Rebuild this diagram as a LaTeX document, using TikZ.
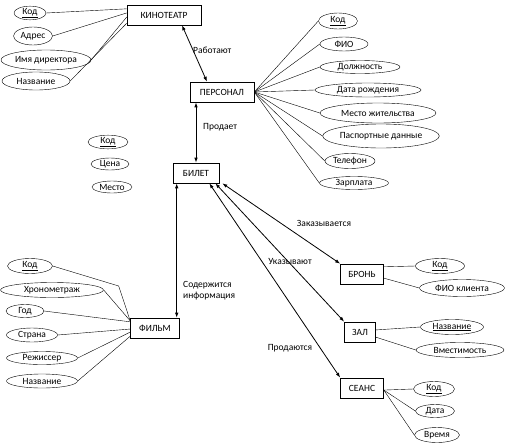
\documentclass[tikz,border=0pt]{standalone}
\usepackage{fontspec}
\setmainfont{Carlito}
\usetikzlibrary{positioning,arrows.meta,calc,shapes.geometric}

\begin{document}
\begin{tikzpicture}[
  x=1pt, y=-1pt,
  font=\fontsize{9.5}{11}\selectfont,
  >={Latex[length=5pt,width=3.5pt]},
  ent/.style={draw, line width=0.6pt, inner xsep=6pt, minimum height=20pt},
  attr/.style={draw, ellipse, inner sep=0pt, minimum height=14pt},
  conn/.style={line width=0.4pt},
  rel/.style={line width=0.8pt, <->},
  lbl/.style={inner sep=0pt, align=left},
]
  \useasboundingbox (0,0) rectangle (510,447);
  % entities
  \node[ent, minimum width=74pt] (kino) at (164,15) {КИНОТЕАТР};
  \node[ent, minimum width=64pt] (pers) at (222,92) {ПЕРСОНАЛ};
  \node[ent, minimum width=46pt] (bilet) at (196,173) {БИЛЕТ};
  \node[ent, minimum width=49pt] (film) at (155,328) {ФИЛЬМ};
  \node[ent, minimum width=43pt] (bron) at (362,274) {БРОНЬ};
  \node[ent, minimum width=31pt] (zal) at (360,332) {ЗАЛ};
  \node[ent, minimum width=43pt] (seans) at (362,388) {СЕАНС};
  % attributes of КИНОТЕАТР
  \node[attr, minimum width=32pt, minimum height=12pt] (kKod) at (30,13) {\underline{Код}};
  \node[attr, minimum width=39pt, minimum height=18pt] (kAdr) at (33,36) {Адрес};
  \node[attr, minimum width=90pt, minimum height=20pt] (kDir) at (46,60) {Имя директора};
  \node[attr, minimum width=68pt, minimum height=18pt] (kName) at (36,81) {Название};
  % attributes of ПЕРСОНАЛ
  \node[attr, minimum width=39pt, minimum height=16pt] (pKod) at (338,21) {\underline{Код}};
  \node[attr, minimum width=48pt] (pFio) at (344,44) {ФИО};
  \node[attr, minimum width=80pt, minimum height=13pt] (pPos) at (360,67) {Должность};
  \node[attr, minimum width=106pt] (pBirth) at (368,90) {Дата рождения};
  \node[attr, minimum width=116pt, minimum height=20pt] (pHome) at (378,113) {Место жительства};
  \node[attr, minimum width=111pt, minimum height=24pt] (pPass) at (381,136) {Паспортные данные};
  \node[attr, minimum width=50pt, minimum height=15pt] (pTel) at (350,161) {Телефон};
  \node[attr, minimum width=69pt, minimum height=13pt] (pSal) at (354,183) {Зарплата};
  % attributes of БИЛЕТ
  \node[attr, minimum width=40pt, minimum height=12pt] (bKod) at (108,142) {\underline{Код}};
  \node[attr, minimum width=38pt, minimum height=12pt] (bPrice) at (110,164) {Цена};
  \node[attr, minimum width=40pt, minimum height=12pt] (bSeat) at (112,187) {Место};
  % attributes of ФИЛЬМ
  \node[attr, minimum width=45pt, minimum height=15pt] (fKod) at (30,266) {\underline{Код}};
  \node[attr, minimum width=103pt, minimum height=15pt] (fLen) at (52,290) {Хронометраж};
  \node[attr, minimum width=38pt, minimum height=13pt] (fYear) at (25,311) {Год};
  \node[attr, minimum width=51pt] (fCountry) at (32,335) {Страна};
  \node[attr, minimum width=71pt, minimum height=13pt] (fDir) at (42,358) {Режиссер};
  \node[attr, minimum width=71pt] (fName) at (42,381) {Название};
  % attributes of БРОНЬ, ЗАЛ, СЕАНС
  \node[attr, minimum width=49pt, minimum height=15pt] (brKod) at (440,266) {\underline{Код}};
  \node[attr, minimum width=85pt, minimum height=17pt] (brClient) at (462,288) {ФИО клиента};
  \node[attr, minimum width=63pt, minimum height=15pt] (zName) at (452,327) {\underline{Название}};
  \node[attr, minimum width=88pt, minimum height=15pt] (zCap) at (460,350) {Вместимость};
  \node[attr, minimum width=41pt, minimum height=15pt] (sKod) at (434,389) {\underline{Код}};
  \node[attr, minimum width=39pt, minimum height=13pt] (sDate) at (435,411) {Дата};
  \node[attr, minimum width=45pt, minimum height=15pt] (sTime) at (437,435) {Время};
  % attribute lines
  \foreach \a/\f in {kKod/0.2, kAdr/0.4, kDir/0.6, kName/0.9}
    \draw[conn] (\a.east) -- ($(kino.north west)!\f!(kino.south west)$);
  \foreach \a in {pKod, pFio, pPos, pBirth, pHome, pPass, pTel, pSal}
    \draw[conn] (pers.east) -- (\a.west);
  \draw[conn] (fKod.east) -- ++(66,20) -- ($(film.north west)!0.15!(film.south west)$);
  \foreach \a/\f in {fLen/0.15, fYear/0.2, fCountry/0.55, fDir/0.7, fName/0.9}
    \draw[conn] (\a.east) -- ($(film.north west)!\f!(film.south west)$);
  \draw[conn] ($(bron.north east)!0.15!(bron.south east)$) -- (brKod.west);
  \draw[conn] ($(bron.north east)!0.7!(bron.south east)$) -- (brClient.west);
  \draw[conn] ($(zal.north east)!0.4!(zal.south east)$) -- (zName.west);
  \draw[conn] ($(zal.north east)!0.75!(zal.south east)$) -- (zCap.west);
  \foreach \a in {sKod, sDate, sTime}
    \draw[conn] ($(seans.north east)!0.6!(seans.south east)$) -- (\a.west);
  % relationships
  \draw[rel] ([xshift=18pt]kino.south) -- ([xshift=-15pt]pers.north);
  \draw[rel] (pers.south -| bilet.north) -- (bilet.north);
  \draw[rel] ([xshift=4pt]bilet.south west) coordinate (bf) -- (bf |- film.north);
  \draw[rel] ([xshift=-10pt]bilet.south east) -- (seans.north west);
  \draw[rel] ([xshift=-4pt]bilet.south east) -- (zal.north west);
  \draw[rel] ([xshift=3pt]bilet.south east) -- (bron.north west);
  % relationship labels
  \node[lbl, anchor=west] (lWork) at (193,50) {Работают};
  \node[lbl, anchor=west] (lSell) at (203,127) {Продает};
  \node[lbl, anchor=west] (lInfo) at (183,291) {Содержится\\информация};
  \node[lbl] (lOrder) at (324,223) {Заказывается};
  \node[lbl] (lHall) at (290,261) {Указывают};
  \node[lbl] (lSold) at (290,348) {Продаются};
\end{tikzpicture}
\end{document}
